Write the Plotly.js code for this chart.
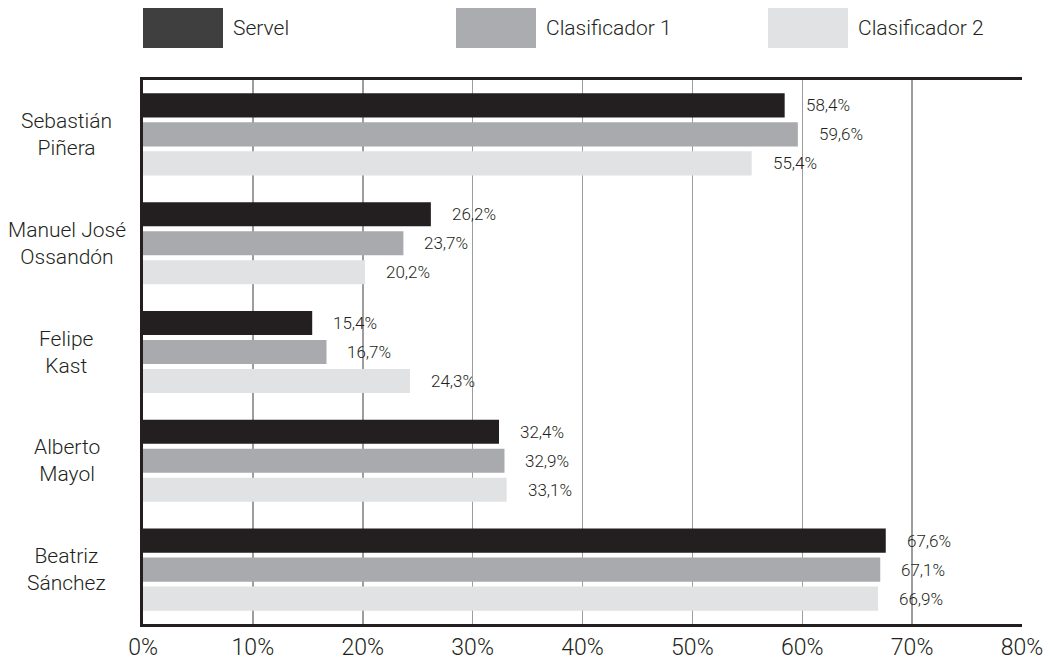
<!DOCTYPE html>
<html>
<head>
<meta charset="utf-8">
<script src="https://cdn.plot.ly/plotly-3.0.1.min.js"></script>
<style>html,body{margin:0;padding:0;background:#fff;}#chart{width:1048px;height:661px;}</style>
</head>
<body>
<div id="chart"></div>
<script>
var categories = ["Sebastián<br>Piñera", "Manuel José<br>Ossandón", "Felipe<br>Kast", "Alberto<br>Mayol", "Beatriz<br>Sánchez"];
var seriesNames = ["Servel", "Clasificador 1", "Clasificador 2"];
var servel = [58.4, 26.2, 15.4, 32.4, 67.6];
var clasificador1 = [59.6, 23.7, 16.7, 32.9, 67.1];
var clasificador2 = [55.4, 20.2, 24.3, 33.1, 66.9];
var tickValues = [0, 10, 20, 30, 40, 50, 60, 70, 80];
var tickLabels = ["0%", "10%", "20%", "30%", "40%", "50%", "60%", "70%", "80%"];

var FONT = "Roboto, 'Noto Sans', sans-serif";
var colors = ["#231f20", "#a9aaad", "#e1e2e4"];
var legendColors = ["#3f3f3f", "#abacaf", "#e1e2e4"];
var allSeries = [servel, clasificador1, clasificador2];
var bargap = 0.2;

var traces = allSeries.map(function (vals, i) {
  return {
    type: "bar",
    orientation: "h",
    name: seriesNames[i],
    x: vals,
    y: categories,
    marker: {color: colors[i], line: {width: 0}},
    hoverinfo: "x+name"
  };
});

var annotations = [];
allSeries.forEach(function (vals, i) {
  vals.forEach(function (v, j) {
    annotations.push({
      x: v,
      y: j + (i - 1) * (1 - bargap) / 3,
      xref: "x", yref: "y",
      text: v.toFixed(1).replace(".", ",") + "%",
      showarrow: false,
      xanchor: "left",
      yanchor: "middle",
      xshift: 19,
      font: {family: FONT, size: 17, color: "#231f20", weight: 300}
    });
  });
});
categories.forEach(function (c, j) {
  annotations.push({
    x: -0.0865, xref: "paper",
    y: j, yref: "y",
    text: c,
    showarrow: false,
    xanchor: "center", yanchor: "middle",
    align: "center",
    font: {family: FONT, size: 21, color: "#231f20", weight: 300}
  });
});

var shapes = [];
var legendX = [143, 456, 768];
seriesNames.forEach(function (n, i) {
  var x0 = (legendX[i] - 143) / 879;
  shapes.push({
    type: "rect", xref: "paper", yref: "paper",
    x0: x0, x1: x0 + 80 / 879,
    y0: (624 - 48) / 544, y1: (624 - 8) / 544,
    fillcolor: legendColors[i], line: {width: 0}
  });
  annotations.push({
    x: x0 + 88 / 879, xref: "paper",
    y: (624 - 28) / 544, yref: "paper",
    text: n, showarrow: false,
    xanchor: "left", yanchor: "middle",
    font: {family: FONT, size: 21, color: "#231f20", weight: 300}
  });
});

var layout = {
  width: 1048, height: 661,
  margin: {l: 143, r: 26, t: 80, b: 37, pad: 0},
  paper_bgcolor: "#ffffff", plot_bgcolor: "#ffffff",
  barmode: "group",
  bargap: bargap,
  bargroupgap: 0.17,
  showlegend: false,
  font: {family: FONT, color: "#231f20"},
  xaxis: {
    range: [0, 80],
    tickvals: tickValues,
    ticktext: tickLabels,
    showgrid: true, gridcolor: "#9d9d9d", gridwidth: 1.5,
    showline: true, linecolor: "#231f20", linewidth: 3, mirror: true,
    ticks: "", zeroline: false,
    tickfont: {family: FONT, size: 23, color: "#231f20", weight: 300},
    fixedrange: true
  },
  yaxis: {
    autorange: "reversed",
    showticklabels: false,
    showgrid: false,
    showline: true, linecolor: "#231f20", linewidth: 3,
    ticks: "", zeroline: false,
    fixedrange: true
  },
  annotations: annotations,
  shapes: shapes
};

Plotly.newPlot("chart", traces, layout, {displayModeBar: false, staticPlot: true});
</script>
</body>
</html>
